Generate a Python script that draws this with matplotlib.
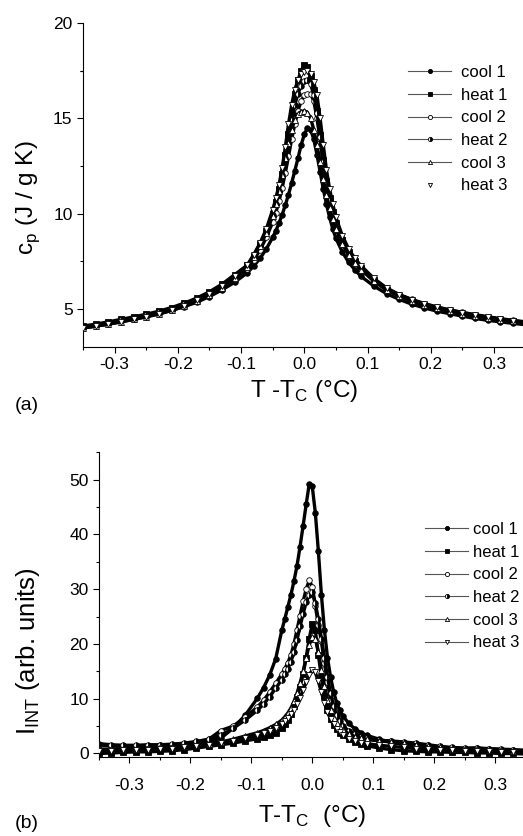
import matplotlib
matplotlib.use("Agg")
import matplotlib.pyplot as plt

plt.rcParams['font.family'] = ['Liberation Sans', 'DejaVu Sans']
plt.rcParams['mathtext.fontset'] = 'custom'
plt.rcParams['mathtext.rm'] = 'Liberation Sans'

# shared temperature grid (T - Tc, deg C)
x_t = [-0.35, -0.33, -0.31, -0.29, -0.27, -0.25, -0.23, -0.21, -0.19, -0.17, -0.15, -0.13, -0.11,
       -0.09, -0.08, -0.07, -0.06,
       -0.05, -0.045, -0.04, -0.035, -0.03, -0.025, -0.02, -0.015, -0.01, -0.005, 0.0,
       0.005, 0.01, 0.015, 0.02, 0.025, 0.03, 0.035, 0.04, 0.045, 0.05,
       0.06, 0.07, 0.08, 0.09,
       0.11, 0.13, 0.15, 0.17, 0.19, 0.21, 0.23, 0.25, 0.27, 0.29, 0.31, 0.33, 0.35]

labels = ["cool 1", "heat 1", "cool 2", "heat 2", "cool 3", "heat 3"]

# (a) heat capacity, J / g K
cp_cool1 = [4.05, 4.15, 4.25, 4.35, 4.48, 4.6, 4.75, 4.92, 5.12, 5.35, 5.65, 6.0, 6.4,
            6.9, 7.25, 7.65, 8.15,
            8.75, 9.1, 9.5, 9.95, 10.45, 11.0, 11.6, 12.25, 12.9, 13.6, 14.15,
            14.5, 14.4, 13.9, 13.1, 12.2, 11.3, 10.5, 9.8, 9.2, 8.7,
            8.0, 7.45, 7.05, 6.7,
            6.2, 5.8, 5.5, 5.25, 5.05, 4.88, 4.75, 4.62, 4.5, 4.4, 4.32, 4.24, 4.17]
cp_heat1 = [4.1, 4.2, 4.32, 4.45, 4.58, 4.72, 4.88, 5.07, 5.3, 5.57, 5.9, 6.3, 6.8,
            7.3, 7.8, 8.4, 9.1,
            10.0, 10.6, 11.3, 12.1, 13.1, 14.2, 15.3, 16.3, 17.0, 17.5, 17.8,
            17.7, 17.2, 16.5, 15.4, 14.1, 12.8, 11.7, 10.8, 10.1, 9.5,
            8.6, 8.0, 7.5, 7.15,
            6.5, 6.0, 5.68, 5.42, 5.2, 5.03, 4.88, 4.75, 4.63, 4.52, 4.43, 4.34, 4.26]
cp_cool2 = [4.0, 4.1, 4.22, 4.34, 4.47, 4.62, 4.78, 4.97, 5.18, 5.44, 5.75, 6.12, 6.58,
            7.1, 7.55, 8.1, 8.75,
            9.55, 10.05, 10.65, 11.35, 12.15, 13.0, 13.9, 14.7, 15.4, 15.9, 16.2,
            16.3, 16.3, 15.9, 15.0, 13.9, 12.7, 11.6, 10.7, 10.0, 9.4,
            8.55, 7.95, 7.5, 7.15,
            6.55, 6.08, 5.75, 5.5, 5.28, 5.1, 4.95, 4.82, 4.7, 4.59, 4.49, 4.4, 4.32]
cp_heat2 = [4.05, 4.15, 4.27, 4.4, 4.53, 4.67, 4.83, 5.02, 5.24, 5.5, 5.83, 6.22, 6.7,
            7.25, 7.75, 8.35, 9.05,
            9.95, 10.5, 11.2, 12.0, 12.9, 13.9, 14.9, 15.7, 16.3, 16.7, 16.95,
            17.0, 16.8, 16.2, 15.3, 14.0, 12.7, 11.6, 10.7, 10.0, 9.4,
            8.55, 7.95, 7.5, 7.1,
            6.5, 6.02, 5.7, 5.44, 5.22, 5.05, 4.9, 4.77, 4.65, 4.54, 4.44, 4.36, 4.28]
cp_cool3 = [4.0, 4.1, 4.2, 4.32, 4.45, 4.58, 4.73, 4.92, 5.13, 5.4, 5.72, 6.1, 6.6,
            7.2, 7.7, 8.3, 9.0,
            9.9, 10.5, 11.2, 12.0, 12.9, 13.7, 14.4, 14.9, 15.2, 15.35, 15.4,
            15.3, 15.0, 14.4, 13.6, 12.7, 11.8, 11.0, 10.3, 9.7, 9.2,
            8.4, 7.85, 7.4, 7.05,
            6.45, 6.0, 5.68, 5.42, 5.2, 5.03, 4.88, 4.75, 4.63, 4.52, 4.43, 4.35, 4.27]
cp_heat3 = [4.0, 4.1, 4.2, 4.32, 4.45, 4.6, 4.75, 4.95, 5.17, 5.45, 5.78, 6.2, 6.72,
            7.3, 7.85, 8.45, 9.2,
            10.2, 10.8, 11.5, 12.4, 13.5, 14.7, 15.7, 16.5, 17.0, 17.3, 17.45,
            17.5, 17.3, 16.9, 16.2, 15.0, 13.6, 12.3, 11.3, 10.5, 9.8,
            8.85, 8.15, 7.65, 7.25,
            6.6, 6.1, 5.75, 5.48, 5.26, 5.08, 4.93, 4.8, 4.68, 4.57, 4.47, 4.38, 4.3]

# (b) integrated intensity, arb. units
int_cool1 = [0.5, 0.6, 0.7, 0.8, 0.9, 1.0, 1.2, 1.4, 1.7, 2.1, 2.8, 4.6, 7.0,
             10.1, 12.0, 14.3, 17.3,
             22.5, 24.6, 26.8, 29.0, 31.5, 34.3, 37.8, 41.6, 45.5, 49.2, 48.8,
             44.0, 37.0, 29.0, 22.5, 17.5, 14.0, 11.3, 9.3, 7.9, 6.9,
             5.5, 4.5, 3.8, 3.3,
             2.6, 2.0, 1.6, 1.3, 1.1, 0.9, 0.8, 0.7, 0.6, 0.5, 0.5, 0.4, 0.4]
int_heat1 = [0.0, 0.1, 0.2, 0.3, 0.3, 0.4, 0.5, 0.7, 1.0, 1.3, 1.6, 1.9, 2.3,
             2.7, 3.0, 3.3, 3.8,
             4.6, 5.3, 6.2, 7.3, 8.7, 10.3, 12.2, 14.5, 17.5, 21.0, 23.6,
             22.5, 18.0, 14.0, 10.5, 8.0, 6.3, 5.2, 4.4, 3.8, 3.3,
             2.6, 2.1, 1.7, 1.4,
             1.0, 0.7, 0.5, 0.4, 0.3, 0.3, 0.2, 0.2, 0.1, 0.1, 0.0, 0.0, -0.1]
int_cool2 = [1.5, 1.4, 1.3, 1.3, 1.4, 1.5, 1.6, 1.8, 2.1, 2.6, 4.2, 5.0, 6.6,
             8.5, 9.7, 11.2, 12.8,
             14.5, 15.5, 16.6, 18.0, 20.0, 22.6, 25.2, 27.8, 30.0, 31.6, 30.5,
             27.0, 23.5, 20.5, 16.5, 13.0, 9.8, 7.8, 6.4, 5.4, 4.7,
             3.8, 3.3, 2.9, 2.6,
             2.3, 2.2, 2.0, 1.8, 1.5, 1.2, 1.0, 0.9, 1.0, 0.8, 0.7, 0.6, 0.5]
int_heat2 = [1.8, 1.6, 1.5, 1.5, 1.6, 1.6, 1.7, 1.9, 2.2, 2.6, 3.3, 4.6, 6.1,
             7.9, 9.0, 10.4, 11.9,
             13.5, 14.5, 15.5, 16.8, 18.6, 20.8, 23.2, 25.5, 27.6, 29.0, 29.5,
             27.5, 24.5, 21.0, 17.5, 14.0, 11.0, 8.6, 7.0, 5.9, 5.1,
             4.1, 3.5, 3.1, 2.8,
             2.4, 2.3, 2.1, 1.9, 1.6, 1.3, 1.1, 1.0, 1.0, 0.9, 0.8, 0.7, 0.6]
int_cool3 = [0.8, 0.8, 0.9, 0.9, 1.0, 1.1, 1.2, 1.3, 1.5, 1.8, 2.1, 2.6, 3.2,
             3.8, 4.2, 4.7, 5.3,
             6.1, 6.7, 7.4, 8.3, 9.5, 11.0, 12.9, 15.0, 17.5, 19.8, 21.3,
             21.0, 18.5, 15.3, 12.3, 9.8, 7.9, 6.5, 5.5, 4.8, 4.3,
             3.6, 3.1, 2.8, 2.6,
             2.3, 2.1, 1.9, 1.6, 1.3, 1.1, 0.9, 0.8, 0.8, 0.7, 0.6, 0.5, 0.5]
int_heat3 = [0.5, 0.5, 0.6, 0.6, 0.7, 0.8, 0.9, 1.1, 1.3, 1.6, 1.9, 2.3, 2.8,
             3.3, 3.7, 4.1, 4.7,
             5.4, 5.9, 6.5, 7.2, 8.0, 9.0, 10.2, 11.6, 13.0, 14.4, 15.2,
             14.8, 13.2, 11.2, 9.3, 7.6, 6.3, 5.3, 4.5, 3.9, 3.4,
             2.7, 2.3, 2.0, 1.8,
             1.5, 1.3, 1.1, 0.9, 0.8, 0.7, 0.6, 0.5, 0.5, 0.4, 0.3, 0.3, 0.2]

cp_sets = [cp_cool1, cp_heat1, cp_cool2, cp_heat2, cp_cool3, cp_heat3]
int_sets = [int_cool1, int_heat1, int_cool2, int_heat2, int_cool3, int_heat3]

# marker style per run: (marker, face, fillstyle)
styles = [('o', 'black', 'full'), ('s', 'black', 'full'), ('o', 'white', 'full'),
          ('o', 'black', 'right'), ('^', 'white', 'full'), ('v', 'white', 'full')]


def draw_panel(ax, sets, no_line_last):
    for i, ys in enumerate(sets):
        mk, fc, fs = styles[i]
        ax.plot(x_t, ys, color='black', lw=2.4, marker=mk, ms=4, mfc=fc,
                mec='black', mew=0.6, fillstyle=fs, markerfacecoloralt='white',
                zorder=2 + i)
    # legend handles: thin line with marker in the middle
    handles = []
    for i in range(len(labels)):
        mk, fc, fs = styles[i]
        ls = 'none' if (no_line_last and i == 5) else '-'
        h, = ax.plot([], [], color='#555555', lw=0.8, ls=ls, marker=mk, ms=3,
                     mfc=fc, mec='black', mew=0.6, fillstyle=fs,
                     markerfacecoloralt='white')
        handles.append(h)
    return handles


def style_axis(ax, pad):
    for s in ['top', 'right']:
        ax.spines[s].set_visible(False)
    ax.spines['left'].set_linewidth(0.8)
    ax.spines['bottom'].set_linewidth(0.8)
    ax.tick_params(which='major', direction='out', length=4, width=0.8, labelsize=12.5)
    ax.tick_params(axis='x', which='major', pad=pad)
    ax.tick_params(which='minor', direction='out', length=2.5, width=0.8)
    ax.set_xlim(-0.35, 0.35)
    ax.set_xticks([-0.3, -0.2, -0.1, 0.0, 0.1, 0.2, 0.3])
    ax.set_xticks([-0.35, -0.25, -0.15, -0.05, 0.05, 0.15, 0.25, 0.35], minor=True)
    ax.set_xticklabels(['-0.3', '-0.2', '-0.1', '0.0', '0.1', '0.2', '0.3'])


fig = plt.figure(figsize=(5.23, 8.36), dpi=100)

ax1 = fig.add_axes([0.1587, 0.5849, 0.8463, 0.3876])
h1 = draw_panel(ax1, cp_sets, True)
style_axis(ax1, 3.5)
ax1.set_ylim(3, 20)
ax1.set_yticks([5, 10, 15, 20])
ax1.set_yticks([2.5 * k for k in range(2, 8)] + [17.5], minor=True)
ax1.set_xlabel(r'T -T$_\mathregular{C}$ ($\mathregular{\degree}$C)', fontsize=17.5, labelpad=4)
ax1.set_ylabel(r'c$_\mathregular{p}$ (J / g K)', fontsize=17.5)
ax1.yaxis.set_label_coords(-0.093, 0.46)
fig.legend(handles=h1, labels=labels, loc='upper left',
           bbox_to_anchor=(408 / 523, 1 - 65 / 836), frameon=False, fontsize=12,
           handlelength=2.6, handletextpad=0.6, labelspacing=0.46, borderpad=0,
           borderaxespad=0, numpoints=1)

ax2 = fig.add_axes([0.1893, 0.0941, 0.8155, 0.3648])
h2 = draw_panel(ax2, int_sets, False)
style_axis(ax2, 11)
ax2.set_ylim(-0.7, 55)
ax2.set_yticks([0, 10, 20, 30, 40, 50])
ax2.set_yticks([5, 15, 25, 35, 45, 55], minor=True)
ax2.set_xlabel(r'T-T$_\mathregular{C}$  ($\mathregular{\degree}$C)', fontsize=17.5, labelpad=7)
ax2.set_ylabel(r'I$_\mathregular{INT}$ (arb. units)', fontsize=18.5)
ax2.yaxis.set_label_coords(-0.133, 0.35)
fig.legend(handles=h2, labels=labels, loc='upper left',
           bbox_to_anchor=(425 / 523, 1 - 522 / 836), frameon=False, fontsize=12,
           handlelength=2.6, handletextpad=0.3, labelspacing=0.46, borderpad=0,
           borderaxespad=0, numpoints=1)

fig.text(15 / 523, 1 - 405 / 836, '(a)', fontsize=14, va='center', ha='left')
fig.text(15 / 523, 1 - 823 / 836, '(b)', fontsize=14, va='center', ha='left')

fig.savefig('out.png', dpi=100)
